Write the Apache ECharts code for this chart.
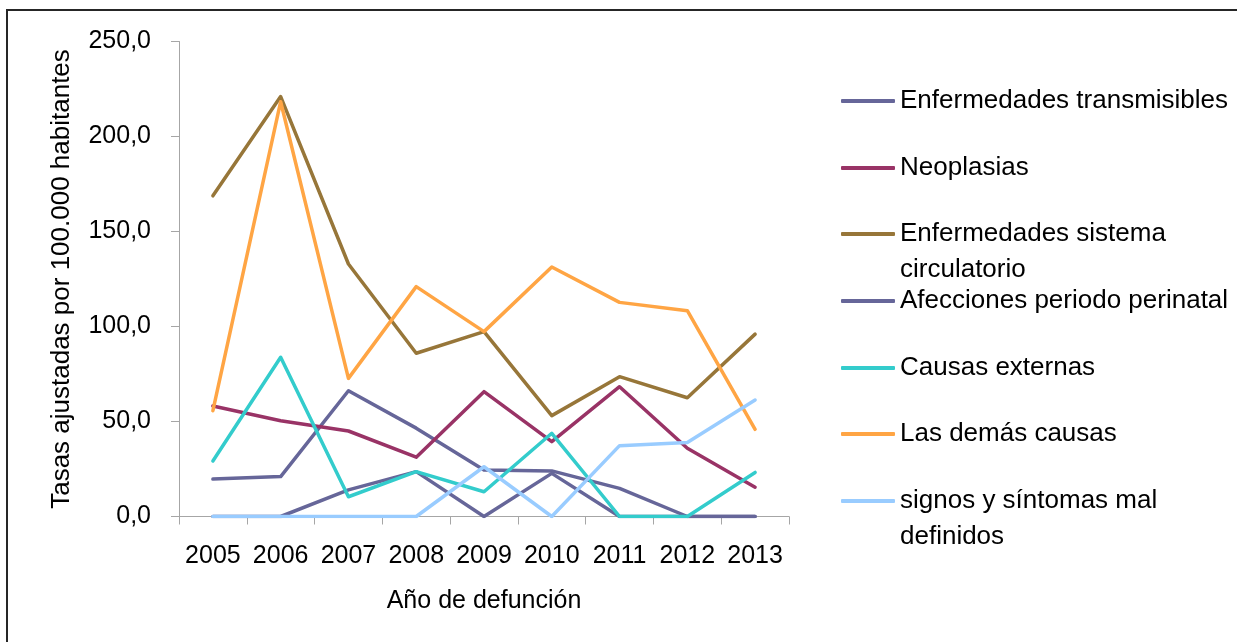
<!DOCTYPE html>
<html>
<head>
<meta charset="utf-8">
<title>Tasas ajustadas por año de defunción</title>
<style>
  html, body { margin: 0; padding: 0; background: #fff; }
  #chart { width: 1237px; height: 642px; }
</style>
<script src="https://cdn.jsdelivr.net/npm/echarts@6/dist/echarts.min.js"></script>
</head>
<body>
<div id="chart"></div>
<script>
// datos
var years = ['2005', '2006', '2007', '2008', '2009', '2010', '2011', '2012', '2013'];

var enfTransmisibles = [19.7, 21.0, 66.2, 46.5, 24.5, 24.0, 14.8, 0, 0];
var neoplasias       = [58.2, 50.4, 45.0, 31.2, 65.7, 39.4, 68.3, 35.9, 15.4];
var circulatorio     = [168.8, 221.0, 132.9, 85.9, 97.3, 53.1, 73.6, 62.5, 96.0];
var perinatal        = [0, 0, 14.0, 23.6, 0, 22.7, 0, 0, 0];
var externas         = [29.2, 83.8, 10.4, 23.6, 13.0, 43.8, 0, 0, 23.2];
var demasCausas      = [55.7, 218.3, 72.7, 121.0, 97.3, 131.3, 112.7, 108.3, 45.9];
var signos           = [0, 0, 0, 0, 26.2, 0, 37.3, 39.0, 61.3];

var names = [
  'Enfermedades transmisibles',
  'Neoplasias',
  'Enfermedades sistema circulatorio',
  'Afecciones periodo perinatal',
  'Causas externas',
  'Las demás causas',
  'signos y síntomas mal definidos'
];
var values = [enfTransmisibles, neoplasias, circulatorio, perinatal, externas, demasCausas, signos];
var colors = ['#666699', '#993366', '#977639', '#666699', '#33CCCC', '#FFA544', '#99CCFF'];

// texto de leyenda en dos lineas
var legendText = {
  'Enfermedades sistema circulatorio': ' \nEnfermedades sistema\ncirculatorio',
  'signos y síntomas mal definidos': ' \nsignos y síntomas mal\ndefinidos'
};
var legendCenters = [101, 168, 234, 301, 368, 434, 501];

var font = 'Liberation Sans, Arial, sans-serif';
var chart = echarts.init(document.getElementById('chart'));

var legends = names.map(function (n, i) {
  var lines = legendText[n] ? 3 : 1;
  return {
    data: [n],
    orient: 'vertical',
    left: 841,
    top: legendCenters[i] - lines * 18,
    padding: 0,
    icon: 'roundRect',
    itemWidth: 54,
    itemHeight: 4,
    selectedMode: false,
    formatter: function (name) { return legendText[name] || name; },
    textStyle: { fontFamily: font, fontSize: 26, color: '#000', lineHeight: 36 }
  };
});

var option = {
  animation: false,
  color: colors,
  legend: legends,
  grid: { left: 179, right: 448, top: 41.5, bottom: 125.5, containLabel: false },
  xAxis: {
    type: 'category',
    data: years,
    boundaryGap: true,
    name: 'Año de defunción',
    nameLocation: 'middle',
    nameGap: 72,
    nameTextStyle: { fontFamily: font, fontSize: 25, color: '#000' },
    axisLine: { lineStyle: { color: '#A6A6A6', width: 1 } },
    axisTick: { show: true, length: 8, alignWithLabel: false, lineStyle: { color: '#A6A6A6' } },
    axisLabel: { fontFamily: font, fontSize: 25, color: '#000', margin: 27, interval: 0 },
    splitLine: { show: false }
  },
  yAxis: {
    type: 'value',
    min: 0,
    max: 250,
    interval: 50,
    name: 'Tasas ajustadas por 100.000 habitantes',
    nameLocation: 'middle',
    nameGap: 104,
    nameTextStyle: { fontFamily: font, fontSize: 26, color: '#000' },
    axisLine: { show: true, lineStyle: { color: '#A6A6A6', width: 1 } },
    axisTick: { show: true, length: 8, lineStyle: { color: '#A6A6A6' } },
    axisLabel: {
      fontFamily: font, fontSize: 25, color: '#000', margin: 28,
      padding: [6, 0, 0, 0],
      formatter: function (v) { return v.toFixed(1).replace('.', ','); }
    },
    splitLine: { show: false }
  },
  series: names.map(function (n, i) {
    return {
      name: n,
      type: 'line',
      data: values[i],
      symbol: 'none',
      showSymbol: false,
      lineStyle: { width: 3.5, color: colors[i], cap: 'round', join: 'round' },
      itemStyle: { color: colors[i] }
    };
  }),
  graphic: [
    { type: 'line', shape: { x1: 7, y1: 10, x2: 1237, y2: 10 }, style: { stroke: '#262626', lineWidth: 2 } },
    { type: 'line', shape: { x1: 7, y1: 9, x2: 7, y2: 642 }, style: { stroke: '#262626', lineWidth: 2 } }
  ]
};

chart.setOption(option);
</script>
</body>
</html>
